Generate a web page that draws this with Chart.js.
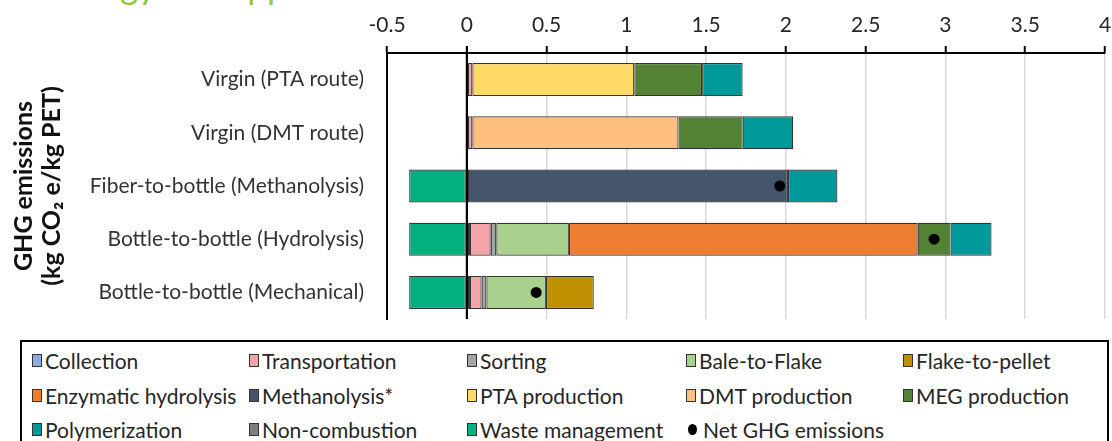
<!DOCTYPE html>
<html>
<head>
<meta charset="utf-8">
<script src="https://cdn.jsdelivr.net/npm/chart.js@4.4.1/dist/chart.umd.min.js"></script>
<style>
  html, body { margin: 0; padding: 0; background: #fff; overflow: hidden; }
  #wrap { position: relative; width: 1112px; height: 441px; overflow: hidden; font-family: Lato, "Noto Sans", sans-serif; }
  #slideTitle { position: absolute; left: 50px; top: -32px; font-size: 35px; line-height: 1; color: #8DC63F; white-space: nowrap; }
  #c { position: absolute; left: 0; top: 0; }
  #legend { position: absolute; left: 20px; top: 340px; width: 1089px; height: 140px; border: 2px solid #000; box-sizing: border-box; background: #fff; }
  .item { position: absolute; height: 22px; display: flex; align-items: center; font-size: 21px; color: #262626; white-space: nowrap; }
  .sw { width: 10px; height: 13px; border: 1px solid #333; box-sizing: border-box; margin-right: 3px; flex: none; }
  .dot { width: 9px; height: 11px; border-radius: 50%; background: #000; margin: 0 6px 0 2px; flex: none; }
</style>
</head>
<body>
<div id="wrap">
  <div id="slideTitle">Energy and applications</div>
  <canvas id="c" width="1112" height="441"></canvas>
  <div id="legend"></div>
</div>
<script>
// Routes (rows, top to bottom)
const categories = [
  'Virgin (PTA route)',
  'Virgin (DMT route)',
  'Fiber-to-bottle (Methanolysis)',
  'Bottle-to-bottle (Hydrolysis)',
  'Bottle-to-bottle (Mechanical)'
];

// Stage contributions, kg CO2e per kg PET, one value per route
const collection     = [0,     0,     0,     0.02,   0.02];
const transportation = [0.035, 0.035, 0,     0.13,   0.073];
const sorting        = [0,     0,     0,     0.035,  0.03];
const baleToFlake    = [0,     0,     0,     0.455,  0.373];
const flakeToPellet  = [0,     0,     0,     0,      0.30];
const enzymatic      = [0,     0,     0,     2.186,  0];
const methanolysis   = [0,     0,     2.013, 0,      0];
const ptaProduction  = [1.015, 0,     0,     0,      0];
const dmtProduction  = [0,     1.292, 0,     0,      0];
const megProduction  = [0.425, 0.402, 0,     0.206,  0];
const polymerization = [0.254, 0.317, 0.31,  0.257,  0];
const nonCombustion  = [0,     0,     0,     0,      0];
const wasteMgmt      = [0,     0,    -0.361, -0.361, -0.361];
const netEmissions   = [null,  null,  1.962, 2.929,  0.435];

// Axis ticks
const xTicks = [-0.5, 0, 0.5, 1, 1.5, 2, 2.5, 3, 3.5, 4];

const stages = [
  ['Collection',           collection,     '#8FAADC'],
  ['Transportation',       transportation, '#F4A3A8'],
  ['Sorting',              sorting,        '#A6A6A6'],
  ['Bale-to-Flake',        baleToFlake,    '#A9D18E'],
  ['Flake-to-pellet',      flakeToPellet,  '#BF9000'],
  ['Enzymatic hydrolysis', enzymatic,      '#ED7D31'],
  ['Methanolysis*',        methanolysis,   '#44546A'],
  ['PTA production',       ptaProduction,  '#FFD966'],
  ['DMT production',       dmtProduction,  '#FFBF80'],
  ['MEG production',       megProduction,  '#548235'],
  ['Polymerization',       polymerization, '#009999'],
  ['Non-combustion',       nonCombustion,  '#7F7F7F'],
  ['Waste management',     wasteMgmt,      '#00B07F']
];

const datasets = stages.map(([label, data, color]) => ({
  type: 'bar',
  label,
  data,
  backgroundColor: color,
  borderColor: '#333333',
  borderWidth: 1.2,
  borderSkipped: false,
  barPercentage: 0.62,
  categoryPercentage: 1,
  stack: 'stages',
  order: 1
}));

// Net emissions markers, drawn above the stacked bars
datasets.push({
  type: 'line',
  label: 'Net GHG emissions',
  data: netEmissions,
  indexAxis: 'y',
  stack: 'net',
  order: 0,
  showLine: false,
  pointRadius: 5.5,
  pointHoverRadius: 5.5,
  pointBackgroundColor: '#000',
  pointBorderWidth: 0,
  borderColor: '#000'
});

// Zero reference line drawn over the bars
const zeroLine = {
  id: 'zeroLine',
  afterDatasetsDraw(chart) {
    const { ctx, chartArea, scales } = chart;
    const x = scales.x.getPixelForValue(0);
    ctx.save();
    ctx.strokeStyle = '#000';
    ctx.lineWidth = 2;
    ctx.beginPath();
    ctx.moveTo(x, chartArea.top - 7);
    ctx.lineTo(x, chartArea.bottom);
    ctx.stroke();
    ctx.restore();
  }
};

const family = 'Lato, "Noto Sans", sans-serif';

const chart = new Chart(document.getElementById('c'), {
  data: { labels: categories, datasets },
  plugins: [zeroLine],
  options: {
    responsive: false,
    animation: false,
    indexAxis: 'y',
    layout: { padding: { left: 0, top: 0, right: 0, bottom: 122 } },
    plugins: { legend: { display: false }, tooltip: { enabled: false } },
    scales: {
      x: {
        position: 'top',
        stacked: true,
        min: xTicks[0],
        max: xTicks[xTicks.length - 1],
        afterBuildTicks: s => { s.ticks = xTicks.map(v => ({ value: v })); },
        ticks: {
          font: { family, size: 21 },
          color: '#262626',
          padding: 8,
          callback: v => String(Math.round(v * 10) / 10)
        },
        grid: {
          color: c => (c.tick && c.tick.value === 0 ? '#000' : '#D9D9D9'),
          lineWidth: c => (c.tick && c.tick.value === 0 ? 2 : 1.5),
          tickColor: '#000',
          tickLength: 7,
          tickWidth: 2
        },
        border: { display: true, color: '#000', width: 2 },
        afterFit: s => { s.height = 53; s.paddingLeft = 0; s.paddingRight = 7; }
      },
      y: {
        stacked: true,
        grid: { display: false, drawTicks: false },
        border: { display: true, color: '#000', width: 2 },
        ticks: { font: { family, size: 21 }, color: '#333', padding: 23 },
        title: {
          display: true,
          text: ['GHG emissions', '(kg CO\u2082 e/kg PET)'],
          font: { family, size: 25, weight: 'bold', lineHeight: 1.12 },
          color: '#111',
          padding: { top: 10, bottom: 0 }
        },
        afterFit: s => { s.width = 387; }
      }
    }
  }
});

// Legend grid built from the chart's datasets
const legend = document.getElementById('legend');
const colX = [10, 227, 445, 664, 881];
const rowY = [7, 42, 76];
chart.data.datasets.forEach((ds, i) => {
  const item = document.createElement('div');
  item.className = 'item';
  item.style.left = colX[i % 5] + 'px';
  item.style.top = rowY[Math.floor(i / 5)] + 'px';
  const mark = document.createElement('span');
  if (ds.type === 'line') {
    mark.className = 'dot';
  } else {
    mark.className = 'sw';
    mark.style.background = ds.backgroundColor;
  }
  item.appendChild(mark);
  item.appendChild(document.createTextNode(ds.label));
  legend.appendChild(item);
});
</script>
</body>
</html>
